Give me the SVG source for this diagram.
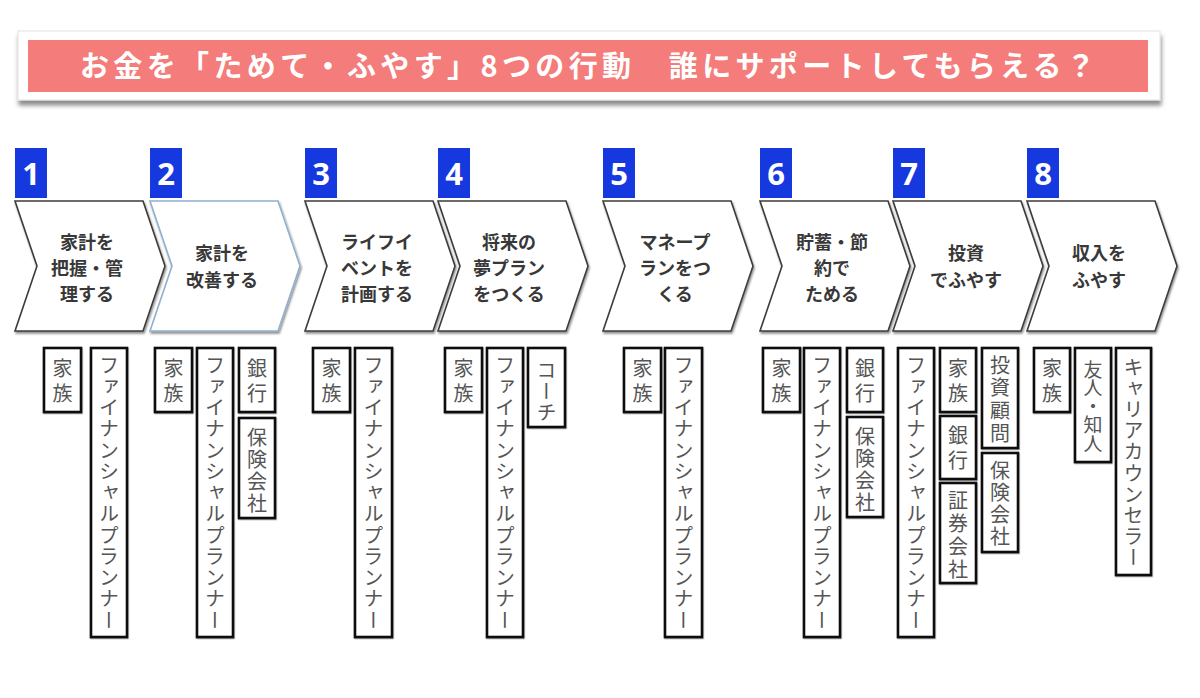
<svg xmlns="http://www.w3.org/2000/svg" width="1200" height="698" viewBox="0 0 1200 698">
<style>
.jp{font-family:"Noto Sans CJK JP","Noto Sans CJK SC",sans-serif;}
.title{font-size:29px;font-weight:bold;fill:#ffffff;}
.badge{fill:#1638df;}
.num{font-family:"Open Sans","Liberation Sans",sans-serif;font-size:31px;font-weight:bold;fill:#ffffff;text-anchor:middle;}
.chev{fill:#ffffff;stroke:#3c3c3c;stroke-width:1.6;stroke-linejoin:miter;}
.chev2{fill:#ffffff;stroke:#8fb0d0;stroke-width:1.6;}
.ct{font-size:18px;font-weight:bold;fill:#383838;text-anchor:middle;}
.box{fill:#ffffff;stroke:#111111;stroke-width:2.6;}
.v{font-size:20px;fill:#555555;writing-mode:vertical-rl;}
</style>
<defs>
<filter id="sh" x="-10%" y="-10%" width="120%" height="130%">
<feDropShadow dx="1" dy="2" stdDeviation="1" flood-color="#000" flood-opacity="0.45"/>
</filter>
<filter id="cardsh" x="-5%" y="-20%" width="110%" height="160%">
<feDropShadow dx="1" dy="5" stdDeviation="2.2" flood-color="#000" flood-opacity="0.45"/>
</filter>
<filter id="bsh" x="-20%" y="-10%" width="140%" height="120%">
<feDropShadow dx="0.5" dy="1" stdDeviation="0.6" flood-color="#000" flood-opacity="0.35"/>
</filter>
</defs>
<rect width="1200" height="698" fill="#ffffff"/>

<g id="title">
<rect x="18" y="31" width="1142" height="69" fill="#ffffff" stroke="#e2e2e2" stroke-width="1" filter="url(#cardsh)"/>
<rect x="28" y="40" width="1120" height="52" fill="#f47c7a"/>
<text class="jp title" x="80" y="77" textLength="1015" lengthAdjust="spacing">お金を「ためて・ふやす」8つの行動　誰にサポートしてもらえる？</text>
</g>

<g id="step1">
<rect class="badge" x="15" y="148" width="32" height="50"/>
<text class="num" x="31" y="185">1</text>
<path class="chev" filter="url(#sh)" d="M15,201 L143,201 L165,266 L143,331 L15,331 L37,266 Z"/>
<text class="jp ct" x="87" y="248.5">家計を</text>
<text class="jp ct" x="87" y="274.5">把握・管</text>
<text class="jp ct" x="87" y="300.5">理する</text>
</g>

<g id="step2">
<rect class="badge" x="150" y="148" width="32" height="50"/>
<text class="num" x="166" y="185">2</text>
<path class="chev2" filter="url(#sh)" d="M150,201 L278,201 L300,266 L278,331 L150,331 L172,266 Z"/>
<text class="jp ct" x="222" y="260">家計を</text>
<text class="jp ct" x="222" y="286.5">改善する</text>
</g>

<g id="step3">
<rect class="badge" x="305" y="148" width="32" height="50"/>
<text class="num" x="321" y="185">3</text>
<path class="chev" filter="url(#sh)" d="M305,201 L433,201 L455,266 L433,331 L305,331 L327,266 Z"/>
<text class="jp ct" x="377" y="248.5">ライフイ</text>
<text class="jp ct" x="377" y="274.5">ベントを</text>
<text class="jp ct" x="377" y="300.5">計画する</text>
</g>

<g id="step4">
<rect class="badge" x="438" y="148" width="32" height="50"/>
<text class="num" x="454" y="185">4</text>
<path class="chev" filter="url(#sh)" d="M438,201 L566,201 L588,266 L566,331 L438,331 L460,266 Z"/>
<text class="jp ct" x="509" y="248.5">将来の</text>
<text class="jp ct" x="509" y="274.5">夢プラン</text>
<text class="jp ct" x="509" y="300.5">をつくる</text>
</g>

<g id="step5">
<rect class="badge" x="603" y="148" width="32" height="50"/>
<text class="num" x="619" y="185">5</text>
<path class="chev" filter="url(#sh)" d="M603,201 L731,201 L753,266 L731,331 L603,331 L625,266 Z"/>
<text class="jp ct" x="675" y="248.5">マネープ</text>
<text class="jp ct" x="675" y="274.5">ランをつ</text>
<text class="jp ct" x="675" y="300.5">くる</text>
</g>

<g id="step6">
<rect class="badge" x="760" y="148" width="32" height="50"/>
<text class="num" x="776" y="185">6</text>
<path class="chev" filter="url(#sh)" d="M760,201 L888,201 L910,266 L888,331 L760,331 L782,266 Z"/>
<text class="jp ct" x="832" y="248.5">貯蓄・節</text>
<text class="jp ct" x="832" y="274.5">約で</text>
<text class="jp ct" x="832" y="300.5">ためる</text>
</g>

<g id="step7">
<rect class="badge" x="893" y="148" width="32" height="50"/>
<text class="num" x="909" y="185">7</text>
<path class="chev" filter="url(#sh)" d="M893,201 L1021,201 L1043,266 L1021,331 L893,331 L915,266 Z"/>
<text class="jp ct" x="966" y="260">投資</text>
<text class="jp ct" x="966" y="286.5">でふやす</text>
</g>

<g id="step8">
<rect class="badge" x="1027" y="148" width="32" height="50"/>
<text class="num" x="1043" y="185">8</text>
<path class="chev" filter="url(#sh)" d="M1027,201 L1155,201 L1177,266 L1155,331 L1027,331 L1049,266 Z"/>
<text class="jp ct" x="1099" y="260">収入を</text>
<text class="jp ct" x="1099" y="286.5">ふやす</text>
</g>

<g id="supporters1">
<rect class="box" filter="url(#bsh)" x="44" y="348" width="37" height="64"/>
<text class="jp v" x="62.5" y="358" style="letter-spacing:5px">家族</text>
<rect class="box" filter="url(#bsh)" x="91" y="348" width="36" height="289"/>
<text class="jp v" x="109" y="355" style="letter-spacing:1.25px">ファイナンシャルプランナー</text>
</g>

<g id="supporters2">
<rect class="box" filter="url(#bsh)" x="155" y="348" width="37" height="64"/>
<text class="jp v" x="173.5" y="358" style="letter-spacing:5px">家族</text>
<rect class="box" filter="url(#bsh)" x="197" y="348" width="36" height="289"/>
<text class="jp v" x="215" y="355" style="letter-spacing:1.25px">ファイナンシャルプランナー</text>
<rect class="box" filter="url(#bsh)" x="239" y="348" width="36" height="64"/>
<text class="jp v" x="257" y="358" style="letter-spacing:5px">銀行</text>
<rect class="box" filter="url(#bsh)" x="239" y="418" width="36" height="100"/>
<text class="jp v" x="257" y="427" style="letter-spacing:2px">保険会社</text>
</g>

<g id="supporters3">
<rect class="box" filter="url(#bsh)" x="313" y="348" width="37" height="64"/>
<text class="jp v" x="331.5" y="358" style="letter-spacing:5px">家族</text>
<rect class="box" filter="url(#bsh)" x="355" y="348" width="37" height="289"/>
<text class="jp v" x="373.5" y="355" style="letter-spacing:1.25px">ファイナンシャルプランナー</text>
</g>

<g id="supporters4">
<rect class="box" filter="url(#bsh)" x="445" y="348" width="37" height="64"/>
<text class="jp v" x="463.5" y="358" style="letter-spacing:5px">家族</text>
<rect class="box" filter="url(#bsh)" x="487" y="348" width="36" height="289"/>
<text class="jp v" x="505" y="355" style="letter-spacing:1.25px">ファイナンシャルプランナー</text>
<rect class="box" filter="url(#bsh)" x="528" y="348" width="37" height="79"/>
<text class="jp v" x="546.5" y="360" style="letter-spacing:1px">コーチ</text>
</g>

<g id="supporters5">
<rect class="box" filter="url(#bsh)" x="624" y="348" width="37" height="64"/>
<text class="jp v" x="642.5" y="358" style="letter-spacing:5px">家族</text>
<rect class="box" filter="url(#bsh)" x="665" y="348" width="37" height="289"/>
<text class="jp v" x="683.5" y="355" style="letter-spacing:1.25px">ファイナンシャルプランナー</text>
</g>

<g id="supporters6">
<rect class="box" filter="url(#bsh)" x="763" y="348" width="37" height="64"/>
<text class="jp v" x="781.5" y="358" style="letter-spacing:5px">家族</text>
<rect class="box" filter="url(#bsh)" x="804" y="348" width="36" height="289"/>
<text class="jp v" x="822" y="355" style="letter-spacing:1.25px">ファイナンシャルプランナー</text>
<rect class="box" filter="url(#bsh)" x="847" y="348" width="36" height="64"/>
<text class="jp v" x="865" y="358" style="letter-spacing:5px">銀行</text>
<rect class="box" filter="url(#bsh)" x="847" y="417" width="36" height="100"/>
<text class="jp v" x="865" y="426" style="letter-spacing:2px">保険会社</text>
</g>

<g id="supporters7">
<rect class="box" filter="url(#bsh)" x="898" y="348" width="36" height="289"/>
<text class="jp v" x="916" y="355" style="letter-spacing:1.25px">ファイナンシャルプランナー</text>
<rect class="box" filter="url(#bsh)" x="940" y="348" width="36" height="64"/>
<text class="jp v" x="958" y="358" style="letter-spacing:5px">家族</text>
<rect class="box" filter="url(#bsh)" x="940" y="416" width="36" height="63"/>
<text class="jp v" x="958" y="425" style="letter-spacing:5px">銀行</text>
<rect class="box" filter="url(#bsh)" x="940" y="483" width="36" height="100"/>
<text class="jp v" x="958" y="490" style="letter-spacing:3.3px">証券会社</text>
<rect class="box" filter="url(#bsh)" x="982" y="348" width="36" height="100"/>
<text class="jp v" x="1000" y="355" style="letter-spacing:2.8px">投資顧問</text>
<rect class="box" filter="url(#bsh)" x="982" y="453" width="36" height="99"/>
<text class="jp v" x="1000" y="460" style="letter-spacing:2.3px">保険会社</text>
</g>

<g id="supporters8">
<rect class="box" filter="url(#bsh)" x="1034" y="348" width="36" height="64"/>
<text class="jp v" x="1052" y="358" style="letter-spacing:5px">家族</text>
<rect class="box" filter="url(#bsh)" x="1075" y="348" width="36" height="114"/>
<text class="jp v" x="1093" y="360" style="font-size:19px;letter-spacing:-0.5px">友人・知人</text>
<rect class="box" filter="url(#bsh)" x="1116" y="348" width="35" height="227"/>
<text class="jp v" x="1133.5" y="357" style="letter-spacing:1.2px">キャリアカウンセラー</text>
</g>

<g id="connectors"/>
</svg>
